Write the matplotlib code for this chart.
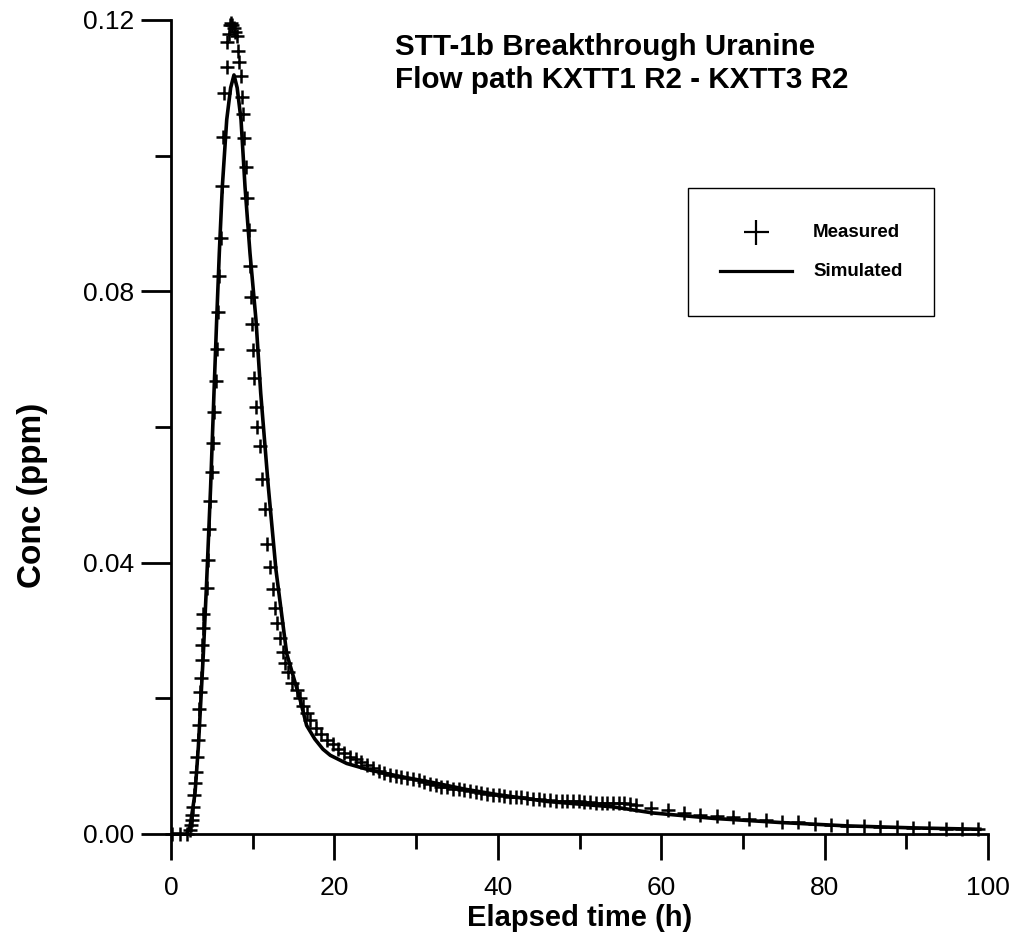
import matplotlib
matplotlib.use("Agg")
import matplotlib.pyplot as plt
from matplotlib.ticker import MultipleLocator, FormatStrFormatter
from matplotlib.patches import Rectangle
from matplotlib.lines import Line2D

plt.rcParams['font.family'] = ['Liberation Sans', 'DejaVu Sans']

# ---------------- data ----------------
meas_t = [0.1, 1.1, 2.0,
          2.33, 2.45, 2.53, 2.61, 2.73, 2.82, 2.94, 3.06, 3.14, 3.27, 3.39, 3.47, 3.55, 3.63,
          3.76, 3.83, 3.88, 3.96, 4.37, 4.50, 4.65, 4.77, 4.98, 5.18, 5.30, 5.47, 5.59, 5.76,
          5.91, 6.08, 6.28, 6.40, 6.49, 6.82, 6.89, 7.05, 7.2, 7.35, 7.5, 7.65,
          7.83, 8.04, 8.24, 8.36, 8.57, 8.68, 8.84, 8.94, 9.14, 9.34, 9.51, 9.67, 9.77, 9.90,
          10.00, 10.22, 10.40, 10.56, 10.84, 11.10, 11.51, 11.79, 12.12, 12.52, 12.79, 12.97,
          13.34, 13.75, 13.95, 14.36, 14.77, 15.39, 15.79, 16.19, 16.61,
          17.0, 17.7, 18.4, 19.1, 19.8, 20.5, 21.2, 21.9, 22.6, 23.3, 24.0, 24.7, 25.4, 26.1,
          26.8, 27.5, 28.2, 28.9, 29.6, 30.3, 31.0, 31.7, 32.4, 33.1, 33.8, 34.5, 35.2, 35.9,
          36.6, 37.3, 38.0, 38.7, 39.4, 40.1, 40.8, 41.5, 42.2, 42.9, 43.6, 44.3, 45.0, 45.7,
          46.4, 47.1, 47.8, 48.5, 49.2, 49.9, 50.6, 51.3, 52.0, 52.7, 53.4, 54.1, 54.8, 55.5,
          56.2, 56.9,
          58.8, 60.8, 62.8, 64.8, 66.8, 68.8, 70.8, 72.8, 74.8, 76.8, 78.8, 80.8, 82.8, 84.8,
          86.8, 88.8, 90.8, 92.8, 94.8, 96.8, 98.8]
meas_c = [0.0, 0.0, 0.0,
          0.0006, 0.0013, 0.0021, 0.0028, 0.0040, 0.0057, 0.0075, 0.0092, 0.0114, 0.0139, 0.0161,
          0.0185, 0.0210, 0.0230,
          0.0257, 0.0279, 0.0303, 0.0325, 0.0362, 0.0404, 0.0450, 0.0491, 0.0534, 0.0576, 0.0622,
          0.0668, 0.0715, 0.0770,
          0.0822, 0.0878, 0.0956, 0.1028, 0.1093, 0.1130, 0.1167, 0.1180, 0.1192, 0.1195, 0.1192,
          0.1188,
          0.1183, 0.1176, 0.1155, 0.1138, 0.1117, 0.1086, 0.1061, 0.1026, 0.0983, 0.0938, 0.0890,
          0.0837, 0.0791, 0.0752,
          0.0714, 0.0672, 0.0630, 0.0600, 0.0572, 0.0524, 0.0479, 0.0427, 0.0394, 0.0361, 0.0333,
          0.0311,
          0.0289, 0.0269, 0.0252, 0.0239, 0.0222, 0.0212, 0.0200, 0.0188, 0.0178,
          0.0168, 0.0156, 0.0147, 0.0139, 0.0133, 0.0126, 0.0119, 0.0114, 0.0110, 0.0106, 0.0102,
          0.0097, 0.0093, 0.0090,
          0.0087, 0.0085, 0.0084, 0.0083, 0.0081, 0.0079, 0.0077, 0.0074, 0.0072, 0.0070, 0.0069,
          0.0067, 0.0066, 0.0065,
          0.0063, 0.0062, 0.0060, 0.0059, 0.0058, 0.0057, 0.0056, 0.0055, 0.0055, 0.0054, 0.0053,
          0.0052, 0.0051, 0.0050,
          0.0050, 0.0049, 0.0049, 0.0048, 0.0048, 0.0048, 0.0047, 0.0047, 0.0046, 0.0046, 0.0045,
          0.0045, 0.0045, 0.0045,
          0.0044, 0.0043,
          0.0039, 0.0035, 0.0031, 0.0028, 0.0026, 0.0025, 0.0022, 0.0021, 0.0018, 0.0017, 0.0015,
          0.0013, 0.0012, 0.0012,
          0.0011, 0.0010, 0.0009, 0.0009, 0.0008, 0.0008, 0.0008]

sim_t = [0.0, 1.0, 1.9, 2.33, 2.94, 3.35, 3.96, 4.37, 4.85, 5.26, 5.59, 5.91, 6.28, 6.82, 7.3,
         7.71, 8.1, 8.57, 9.06, 9.67, 10.4, 10.98, 11.91, 12.85, 14.16, 15.8, 16.6, 17.6, 18.6,
         19.5, 21.5, 24.4, 28.4, 32.0, 36.0, 40.0, 46.0, 54.1, 59.0, 66.4, 74.5, 82.7, 90.9, 99.0]
sim_c = [0.0, 0.0, 0.0, 0.0011, 0.0060, 0.0129, 0.0266, 0.0374, 0.0512, 0.0650, 0.0758, 0.0856,
         0.0954, 0.1053, 0.1100,
         0.1119, 0.1100, 0.1053, 0.0954, 0.0856, 0.0758, 0.0650, 0.0512, 0.0389, 0.0266, 0.0198,
         0.0160, 0.0140, 0.0125,
         0.0116, 0.0104, 0.0094, 0.0084, 0.0076, 0.0066, 0.0058, 0.0048, 0.0040, 0.0031, 0.0023,
         0.0017, 0.0012, 0.0009, 0.0007]

title_text = "STT-1b Breakthrough Uranine\nFlow path KXTT1 R2 - KXTT3 R2"
legend_labels = ["Measured", "Simulated"]
x_label = "Elapsed time (h)"
y_label = "Conc (ppm)"

# ---------------- figure ----------------
fig = plt.figure(figsize=(10.31, 9.42), dpi=100)
ax = fig.add_axes([0.16586, 0.11465, 0.79244, 0.86412])

ax.plot(sim_t, sim_c, color='black', lw=2.6, solid_joinstyle='round', zorder=2)
ax.plot(meas_t, meas_c, linestyle='none', marker='+', markersize=10, mew=1.8,
        color='black', clip_on=False, zorder=3)

ax.set_xlim(0, 100)
ax.set_ylim(0, 0.12)

for s in ['top', 'right']:
    ax.spines[s].set_visible(False)
for s in ['left', 'bottom']:
    ax.spines[s].set_linewidth(2.0)

ax.xaxis.set_major_locator(MultipleLocator(20))
ax.xaxis.set_minor_locator(MultipleLocator(10))
ax.yaxis.set_major_locator(MultipleLocator(0.04))
ax.yaxis.set_minor_locator(MultipleLocator(0.02))
ax.yaxis.set_major_formatter(FormatStrFormatter('%.2f'))

ax.tick_params(axis='x', which='major', direction='out', length=19, width=2, labelsize=19, pad=11)
ax.tick_params(axis='x', which='minor', direction='out', length=11, width=2)
ax.tick_params(axis='y', which='major', direction='out', length=21.5, width=2, labelsize=19, pad=5)
ax.tick_params(axis='y', which='minor', direction='out', length=11.5, width=2)

ax.set_xlabel(x_label, fontsize=21, fontweight='bold')
ax.set_ylabel(y_label, fontsize=24, fontweight='bold')
ax.xaxis.set_label_coords(0.5, -0.103)
ax.xaxis.label.set_va('center')
ax.yaxis.set_label_coords(-0.169, 0.416)
ax.yaxis.label.set_va('center')

ax.text(0.274, 0.9846, title_text, transform=ax.transAxes, fontsize=21.3, fontweight='bold',
        ha='left', va='top', linespacing=1.27)

# legend box
ax.add_patch(Rectangle((0.6328, 0.6364), 0.9339 - 0.6328, 0.7936 - 0.6364,
                       transform=ax.transAxes, fill=False, edgecolor='black', lw=1.0,
                       clip_on=False, zorder=4))
ax.add_line(Line2D([0.7164], [0.7400], transform=ax.transAxes, marker='+', markersize=18,
                   mew=1.6, color='black', linestyle='none', clip_on=False))
ax.add_line(Line2D([0.672, 0.760], [0.692, 0.692], transform=ax.transAxes, color='black',
                   lw=2.3, clip_on=False))
ax.text(0.7858, 0.7387, legend_labels[0], transform=ax.transAxes, fontsize=13.5,
        fontweight='bold', ha='left', va='center')
ax.text(0.7858, 0.6908, legend_labels[1], transform=ax.transAxes, fontsize=13.5,
        fontweight='bold', ha='left', va='center')

fig.savefig('out.png', dpi=100, facecolor='white')
